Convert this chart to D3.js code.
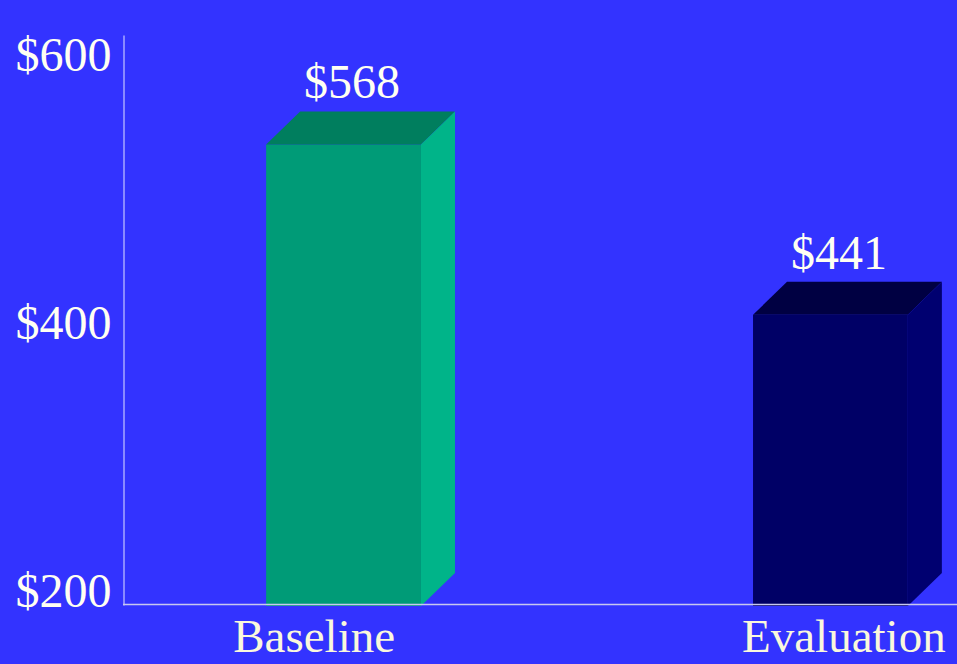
<!DOCTYPE html>
<html>
<head>
<meta charset="utf-8">
<script src="https://cdn.jsdelivr.net/npm/d3@7"></script>
<style>
  html, body { margin: 0; padding: 0; background: #3333FF; }
  svg { display: block; }
</style>
</head>
<body>
<svg id="chart" width="957" height="664"></svg>
<script>
// Average cost per case, before and after
const categories = ["Baseline", "Evaluation"];
const costs = [568, 441];
const tickValues = [200, 400, 600];
const tickLabels = ["$200", "$400", "$600"];
const valueLabels = ["$568", "$441"];

// Face colours for each bar: front, top, side
const frontColors = ["#009B77", "#000066"];
const topColors = ["#007E5E", "#000042"];
const sideColors = ["#00B489", "#000070"];

const W = 957, H = 664;
const plotLeft = 123, plotBottom = 605, plotTop = 35;
const depthX = 34, depthY = 33;           // 3D extrusion offset
const serif = "'Liberation Serif', 'Times New Roman', serif";

const svg = d3.select("#chart");
svg.append("rect").attr("width", W).attr("height", H).attr("fill", "#3333FF");

const y = d3.scaleLinear().domain([200, 625]).range([plotBottom, plotTop]);

const x = d3.scaleBand()
  .domain(categories)
  .range([plotLeft, 1051])
  .paddingInner(0.682)
  .paddingOuter(0.294);

// Category label positions along the floor
const xLabel = d3.scalePoint()
  .domain(categories)
  .range([plotLeft, 1034])
  .padding(0.36);

const data = categories.map((c, i) => ({
  cat: c, value: costs[i], label: valueLabels[i],
  front: frontColors[i], top: topColors[i], side: sideColors[i]
}));

const bars = svg.append("g").selectAll("g").data(data).join("g");

bars.each(function(d) {
  const g = d3.select(this);
  const x0 = x(d.cat), w = x.bandwidth();
  const backTop = y(d.value);
  const frontTop = backTop + depthY;
  const bottom = y(200) + 1;

  g.append("rect")
    .attr("x", x0).attr("y", frontTop)
    .attr("width", w).attr("height", bottom - frontTop)
    .attr("fill", d.front);

  g.append("polygon")
    .attr("points", [
      [x0, frontTop], [x0 + w, frontTop],
      [x0 + w + depthX, backTop], [x0 + depthX, backTop]
    ].map(p => p.join(",")).join(" "))
    .attr("fill", d.top);

  g.append("polygon")
    .attr("points", [
      [x0 + w, frontTop], [x0 + w + depthX, backTop],
      [x0 + w + depthX, bottom - depthY], [x0 + w, bottom]
    ].map(p => p.join(",")).join(" "))
    .attr("fill", d.side);

  g.append("text")
    .attr("x", x0 + w / 2 + depthX / 4)
    .attr("y", backTop - 13)
    .attr("text-anchor", "middle")
    .attr("font-family", serif)
    .attr("font-size", 48)
    .attr("fill", "#FFFFF2")
    .text(d.label);
});

// Value axis: line plus dollar labels
const yAxis = d3.axisLeft(y)
  .tickValues(tickValues)
  .tickSize(0)
  .tickPadding(12)
  .tickFormat((v, i) => tickLabels[i]);

const yg = svg.append("g")
  .attr("transform", `translate(${plotLeft + 0.5},0)`)
  .call(yAxis);
yg.select(".domain").attr("stroke", "#A8A8FF").attr("stroke-width", 1.5);
yg.selectAll("text")
  .attr("font-family", serif)
  .attr("font-size", 48)
  .attr("fill", "#FFFFF2")
  .attr("dy", "0.04em");

// Floor line
svg.append("line")
  .attr("x1", plotLeft).attr("x2", W)
  .attr("y1", y(200) - 0.5).attr("y2", y(200) - 0.5)
  .attr("stroke", "#C8C8EE").attr("stroke-width", 1.5);

// Category axis
const xAxis = d3.axisBottom(xLabel).tickSize(0).tickPadding(0);
const xg = svg.append("g")
  .attr("transform", `translate(0,${plotBottom})`)
  .call(xAxis);
xg.select(".domain").remove();
xg.selectAll("text")
  .attr("font-family", serif)
  .attr("font-size", 47)
  .attr("fill", "#FAF8DC")
  .attr("dy", null)
  .attr("y", 47);
</script>
</body>
</html>
